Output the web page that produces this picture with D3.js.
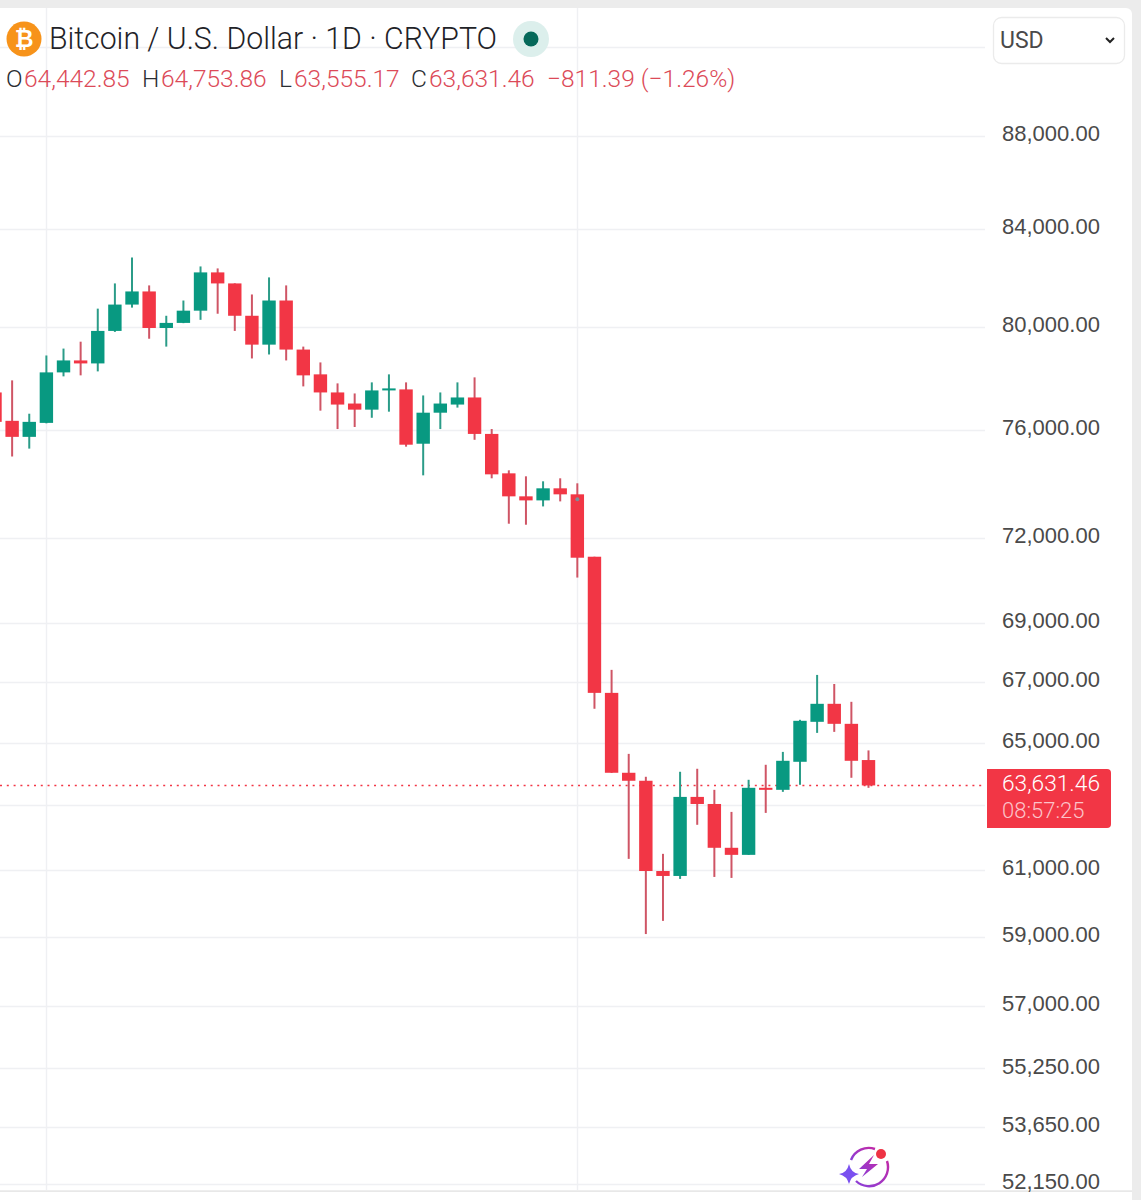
<!DOCTYPE html>
<html>
<head>
<meta charset="utf-8">
<script src="https://cdnjs.cloudflare.com/ajax/libs/d3/7.8.5/d3.min.js"></script>
<style>
  html, body { margin: 0; padding: 0; background: #fff; }
  svg { display: block; font-family: Roboto, sans-serif; }
  .axis text { font-size: 22px; fill: #4a4a4a; }
</style>
</head>
<body>
<div id="chart"></div>
<script>
var title = "Bitcoin / U.S. Dollar · 1D · CRYPTO";
var currency = "USD";
var countdown = "08:57:25";

var opens = [77425, 76335, 75727, 76257, 78204, 78672, 78555, 79840, 80897, 81429, 79957, 80160, 80651,
  82207, 81756, 80446, 79295, 81061, 79100, 78127, 77425, 76997, 76763, 77503, 77542, 75468, 76646,
  76958, 77231, 75838, 74360, 73511, 73363, 73806, 73585, 71328, 66641, 64035, 63780, 60970, 60820,
  63268, 63045, 61681, 61464, 63556, 63492, 64387, 65685, 66278, 65619, 64442.85];
var highs = [77932, 77893, 76607, 78867, 79139, 79412, 80733, 81756, 82821, 81675, 80446, 81061, 82452,
  82371, 81760, 81306, 82002, 81675, 79217, 78594, 77776, 77386, 77815, 78127, 77815, 77309, 77425,
  77815, 78010, 76023, 74471, 74250, 74065, 74176, 73991, 71328, 67411, 64642, 63907, 61495, 64067,
  64163, 63492, 62796, 63811, 64291, 64706, 65751, 67241, 66937, 66344, 64753.86];
var lows = [76000, 74988, 75284, 76240, 78049, 78088, 78243, 79801, 80774, 79529, 79217, 80150, 80283,
  80528, 79840, 78750, 78906, 78672, 77659, 76724, 76023, 76101, 76452, 76685, 75357, 74286, 76023,
  76841, 75616, 74176, 72514, 72477, 73142, 73326, 70590, 66114, 64030, 61341, 59081, 59471, 60730,
  62393, 60790, 60760, 61464, 62765, 63428, 63652, 65323, 65356, 63875, 63555.17];
var closes = [76296, 75727, 76296, 78204, 78672, 78555, 79840, 80897, 81429, 79957, 80160, 80651, 82207,
  81756, 80446, 79295, 81061, 79100, 78088, 77425, 76958, 76763, 77503, 77581, 75431, 76646, 76997,
  77231, 75838, 74323, 73511, 73363, 73806, 73585, 71293, 66641, 64035, 63780, 60970, 60820, 63268,
  63045, 61681, 61464, 63556, 63492, 64419, 65718, 66278, 65619, 64419, 63631.46];

var tick_values = [92000, 88000, 84000, 80000, 76000, 72000, 69000, 67000, 65000, 63000, 61000, 59000, 57000, 55250, 53650, 52150];
var tick_hidden = [92000, 63000];
var session_marks = [3, 34];
var marked_candle = 34;

var legend_items = [["O", "64,442.85", 6, 24], ["H", "64,753.86", 142, 161], ["L", "63,555.17", 279, 294], ["C", "63,631.46", 411, 429]];
var change_text = "−811.39 (−1.26%)";

var up = "#089981", down = "#f23645";
var up_wick = "#2b9c88", down_wick = "#cf5565";
var grid = "#eff0f3";

var width = 1141, height = 1200;
var data = closes.map(function(c, i) { return {o: opens[i], h: highs[i], l: lows[i], c: c, i: i}; });

var svg = d3.select("#chart").append("svg")
  .attr("width", width).attr("height", height);

var x = d3.scaleLinear().domain([0, closes.length - 1]).range([-5, 868.5]);
var y = d3.scaleLog().domain([88000, 52150]).range([136, 1184]);

// page frame
svg.append("rect").attr("width", width).attr("height", height).attr("fill", "#ececec");
svg.append("path").attr("fill", "#fff")
  .attr("d", "M0,8H1126a6,6 0 0 1 6,6V1191H0Z");
svg.append("rect").attr("x", 0).attr("y", 1191).attr("width", 1132).attr("height", 9).attr("fill", "#fff");
svg.append("rect").attr("x", 0).attr("y", 1190.5).attr("width", 1132).attr("height", 1.2).attr("fill", "#dedede");

// grid
svg.append("g").selectAll("line").data(tick_values).enter().append("line")
  .attr("x1", 0).attr("x2", 985)
  .attr("y1", function(d) { return Math.round(y(d)) + 0.5; })
  .attr("y2", function(d) { return Math.round(y(d)) + 0.5; })
  .attr("stroke", grid).attr("stroke-width", 1.4);

svg.append("g").selectAll("line").data(session_marks).enter().append("line")
  .attr("x1", function(d) { return Math.round(x(d)) + 0.5; })
  .attr("x2", function(d) { return Math.round(x(d)) + 0.5; })
  .attr("y1", 8).attr("y2", 1190)
  .attr("stroke", grid).attr("stroke-width", 1.4);

// last price line
svg.append("line")
  .attr("x1", 0).attr("x2", 985)
  .attr("y1", y(closes[closes.length - 1])).attr("y2", y(closes[closes.length - 1]))
  .attr("stroke", down).attr("stroke-width", 1.6).attr("stroke-dasharray", "2 4.8");

// candles
var candles = svg.append("g").selectAll("g").data(data).enter().append("g");

candles.append("line")
  .attr("x1", function(d) { return x(d.i); })
  .attr("x2", function(d) { return x(d.i); })
  .attr("y1", function(d) { return y(d.h); })
  .attr("y2", function(d) { return y(d.l); })
  .attr("stroke", function(d) { return d.c >= d.o ? up_wick : down_wick; })
  .attr("stroke-width", 2);

candles.append("rect")
  .attr("x", function(d) { return x(d.i) - 6.7; })
  .attr("width", 13.4)
  .attr("y", function(d) { return y(Math.max(d.o, d.c)); })
  .attr("height", function(d) { return Math.max(2, Math.abs(y(d.o) - y(d.c))); })
  .attr("fill", function(d) { return d.c >= d.o ? up : down; });

svg.append("circle")
  .attr("cx", x(marked_candle)).attr("cy", y(opens[marked_candle]) + 5).attr("r", 2)
  .attr("fill", "#7f8c99");

// price axis
var axis = d3.axisRight(y)
  .tickValues(tick_values.filter(function(d) { return tick_hidden.indexOf(d) < 0; }))
  .tickSize(0).tickPadding(0)
  .tickFormat(d3.format(",.2f"));

var axis_g = svg.append("g").attr("class", "axis").attr("transform", "translate(1002,-2.3)").call(axis);
axis_g.select(".domain").remove();

// last price tag
svg.append("path").attr("fill", down)
  .attr("d", "M987,769H1107a4,4 0 0 1 4,4V824a4,4 0 0 1 -4,4H987Z");
svg.append("text").attr("x", 1002).attr("y", 791).attr("font-size", 22).attr("font-weight", 300).attr("fill", "#fff")
  .attr("textLength", 98).attr("lengthAdjust", "spacingAndGlyphs")
  .text(d3.format(",.2f")(closes[closes.length - 1]));
svg.append("text").attr("x", 1002).attr("y", 818).attr("font-size", 22).attr("font-weight", 300).attr("fill", "#fcc3c9")
  .text(countdown);

// legend
svg.append("circle").attr("cx", 24).attr("cy", 39).attr("r", 17.5).attr("fill", "#f7931a");
svg.append("text").attr("x", 24).attr("y", 47).attr("text-anchor", "middle")
  .attr("font-size", 23).attr("font-weight", 700).attr("fill", "#fff").text("₿");

svg.append("text").attr("x", 49).attr("y", 49)
  .attr("font-size", 31).attr("font-weight", 300).attr("fill", "#1f2328")
  .attr("textLength", 448).attr("lengthAdjust", "spacingAndGlyphs")
  .text(title);

svg.append("circle").attr("cx", 531).attr("cy", 39).attr("r", 18).attr("fill", "#dcefec");
svg.append("circle").attr("cx", 531).attr("cy", 39).attr("r", 7.5).attr("fill", "#06695a");

var legend = svg.append("g").selectAll("g").data(legend_items).enter().append("g");
legend.append("text")
  .attr("x", function(d) { return d[2]; }).attr("y", 87)
  .attr("font-size", 24.5).attr("font-weight", 300).attr("fill", "#2a2e33")
  .text(function(d) { return d[0]; });
legend.append("text")
  .attr("x", function(d) { return d[3]; }).attr("y", 87)
  .attr("font-size", 24.5).attr("font-weight", 300).attr("fill", "#dc4a58")
  .text(function(d) { return d[1]; });
svg.append("text").attr("x", 547).attr("y", 87)
  .attr("font-size", 24.5).attr("font-weight", 300).attr("fill", "#dc4a58")
  .text(change_text);

// currency select
svg.append("rect").attr("x", 993.5).attr("y", 17.5).attr("width", 131).attr("height", 46).attr("rx", 8)
  .attr("fill", "#fff").attr("stroke", "#ebebeb").attr("stroke-width", 1.3);
svg.append("text").attr("x", 1000).attr("y", 48).attr("font-size", 23).attr("fill", "#4a4a4a").text(currency);
svg.append("path").attr("d", "M1106,38l4,4l4,-4").attr("fill", "none").attr("stroke", "#222").attr("stroke-width", 2);

// assistant icon
var defs = svg.append("defs");
var gradient = defs.append("linearGradient").attr("id", "spark").attr("x1", 0).attr("y1", 1).attr("x2", 1).attr("y2", 0);
gradient.append("stop").attr("offset", 0).attr("stop-color", "#8a3fd8");
gradient.append("stop").attr("offset", 1).attr("stop-color", "#c02aa8");

var icon = svg.append("g").attr("transform", "translate(869,1167)");
icon.append("path").attr("d", "M-18,-7A19,19 0 0 1 6,-18").attr("fill", "none").attr("stroke", "url(#spark)").attr("stroke-width", 2.4);
icon.append("path").attr("d", "M18,-6A19,19 0 0 1 -13,14").attr("fill", "none").attr("stroke", "url(#spark)").attr("stroke-width", 2.4);
icon.append("path").attr("d", "M5,-12L-10,2H-2L-7,10L9,-3H0Z").attr("fill", "url(#spark)");
icon.append("path").attr("d", "M-20,-3Q-18,6 -10,7Q-18,9 -20,17Q-22,9 -30,7Q-22,6 -20,-3Z").attr("fill", "#7a50f0");
icon.append("circle").attr("cx", 12).attr("cy", -13).attr("r", 5).attr("fill", "#ee3344");
</script>
</body>
</html>
